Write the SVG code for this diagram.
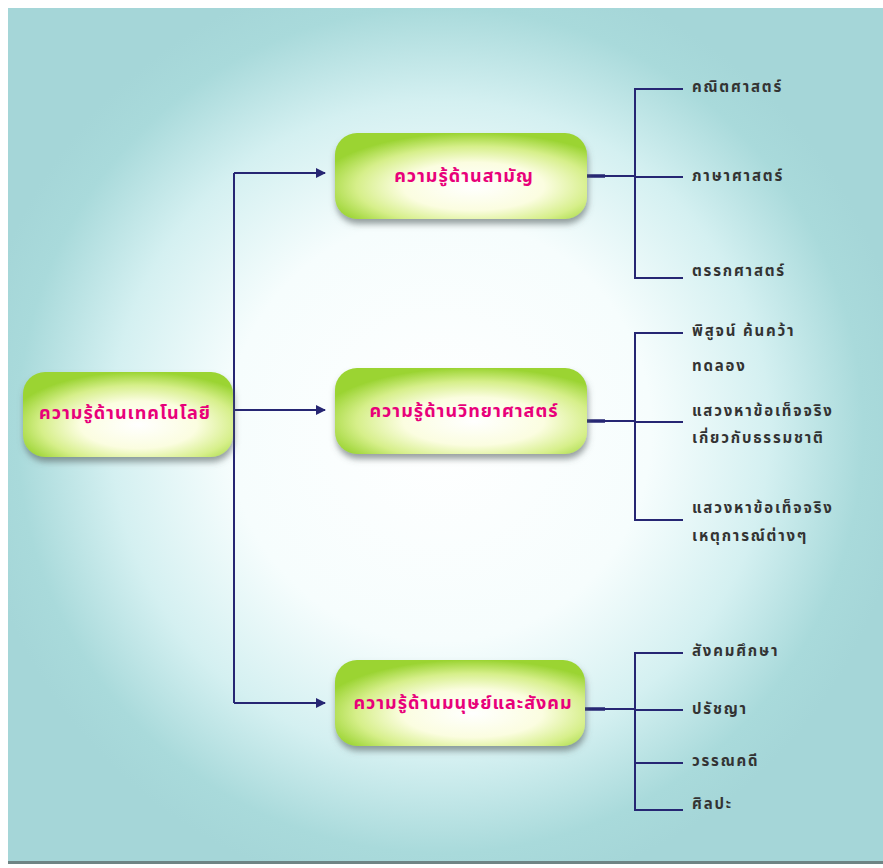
<svg xmlns="http://www.w3.org/2000/svg" width="883" height="868" viewBox="0 0 883 868">
<defs>
<radialGradient id="bg" cx="440" cy="430" r="470" gradientUnits="userSpaceOnUse">
<stop offset="0" stop-color="#ffffff"/>
<stop offset="0.45" stop-color="#f6fdfd"/>
<stop offset="0.7" stop-color="#d4f0f1"/>
<stop offset="0.9" stop-color="#a9dadb"/>
<stop offset="1" stop-color="#a5d6d8"/>
</radialGradient>
<radialGradient id="nodeFill" cx="0.55" cy="0.62" r="0.62">
<stop offset="0" stop-color="#ffffff"/>
<stop offset="0.45" stop-color="#fbfde0"/>
<stop offset="0.75" stop-color="#d6ef8a"/>
<stop offset="1" stop-color="#9bd433"/>
</radialGradient>
<filter id="shadow" x="-10%" y="-20%" width="120%" height="150%">
<feDropShadow dx="1" dy="5" stdDeviation="3" flood-color="#556060" flood-opacity="0.6"/>
</filter>
<marker id="arr" viewBox="0 0 10 10" refX="9" refY="5" markerWidth="10" markerHeight="10" markerUnits="userSpaceOnUse" orient="auto">
<path d="M0,0 L10,5 L0,10 z" fill="#262673"/>
</marker>
<style>
.node rect{fill:url(#nodeFill);filter:url(#shadow)}
.node text{font-family:"Noto Sans Thai","Noto Sans","DejaVu Sans",sans-serif;font-weight:bold;font-size:18px;letter-spacing:1px;fill:#e8007a;text-anchor:middle}
.leaf text{font-family:"Noto Sans Thai","Noto Sans","DejaVu Sans",sans-serif;font-weight:bold;font-size:15px;letter-spacing:1.8px;fill:#333333}
.conn line,.conn path{stroke:#262673;stroke-width:2;fill:none}
.conn .stub{stroke-width:3.5}
</style>
</defs>
<rect x="0" y="0" width="883" height="868" fill="#ffffff"/>
<rect x="8" y="9" width="875" height="855" fill="#6f8585"/>
<rect x="8" y="8" width="875" height="853" fill="url(#bg)"/>

<g id="connectors" class="conn">
<path d="M233,410 L325,410" marker-end="url(#arr)"/>
<path d="M234,173 L234,703"/>
<path d="M234,173 L325,173" marker-end="url(#arr)"/>
<path d="M234,703 L325,703" marker-end="url(#arr)"/>
<line class="stub" x1="587" y1="176" x2="605" y2="176"/>
<line x1="605" y1="176" x2="635" y2="176"/>
<line class="stub" x1="587" y1="421" x2="605" y2="421"/>
<line x1="605" y1="421" x2="635" y2="421"/>
<line class="stub" x1="585" y1="709" x2="605" y2="709"/>
<line x1="605" y1="709" x2="635" y2="709"/>
<path d="M683,89 L635,89 L635,278 L683,278"/>
<line x1="635" y1="177" x2="683" y2="177"/>
<path d="M683,333 L635,333 L635,520 L683,520"/>
<line x1="635" y1="422" x2="683" y2="422"/>
<path d="M683,653 L635,653 L635,810 L683,810"/>
<line x1="635" y1="710" x2="683" y2="710"/>
<line x1="635" y1="763" x2="683" y2="763"/>
</g>

<g id="n-tech" class="node"><rect x="23" y="372" width="210" height="85" rx="22"/><text x="125" y="419">ความรู้ด้านเทคโนโลยี</text></g>
<g id="n-general" class="node"><rect x="335" y="133" width="252" height="86" rx="22"/><text x="464" y="182">ความรู้ด้านสามัญ</text></g>
<g id="n-science" class="node"><rect x="335" y="368" width="252" height="86" rx="22"/><text x="464" y="417">ความรู้ด้านวิทยาศาสตร์</text></g>
<g id="n-social" class="node"><rect x="335" y="660" width="250" height="86" rx="22"/><text x="463" y="709">ความรู้ด้านมนุษย์และสังคม</text></g>

<g id="l-math" class="leaf"><text x="692" y="92">คณิตศาสตร์</text></g>
<g id="l-ling" class="leaf"><text x="692" y="181">ภาษาศาสตร์</text></g>
<g id="l-logic" class="leaf"><text x="692" y="276">ตรรกศาสตร์</text></g>
<g id="l-prove" class="leaf"><text x="692" y="336">พิสูจน์ ค้นคว้า</text><text x="692" y="371">ทดลอง</text></g>
<g id="l-nature" class="leaf"><text x="692" y="416">แสวงหาข้อเท็จจริง</text><text x="692" y="443">เกี่ยวกับธรรมชาติ</text></g>
<g id="l-events" class="leaf"><text x="692" y="513">แสวงหาข้อเท็จจริง</text><text x="692" y="541">เหตุการณ์ต่างๆ</text></g>
<g id="l-socstud" class="leaf"><text x="692" y="656">สังคมศึกษา</text></g>
<g id="l-philo" class="leaf"><text x="692" y="714">ปรัชญา</text></g>
<g id="l-lit" class="leaf"><text x="692" y="766">วรรณคดี</text></g>
<g id="l-art" class="leaf"><text x="692" y="809">ศิลปะ</text></g>
</svg>
